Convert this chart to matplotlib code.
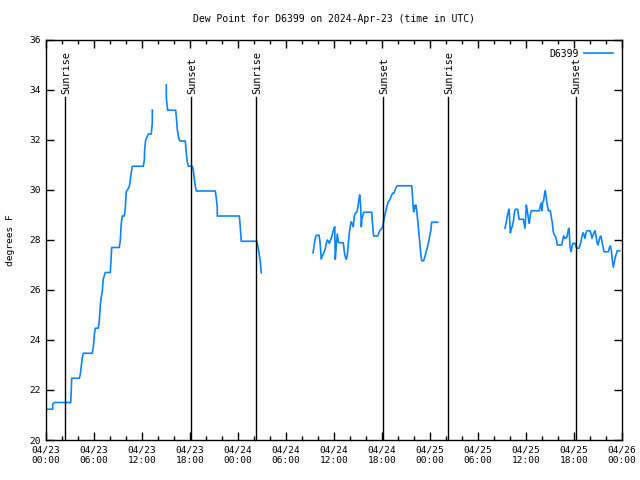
import numpy as np
import matplotlib.pyplot as plt

# hours since 2024-04-23 00:00 UTC, dew point in F (nan = gap in data)
hours = [0.0, 0.84, 0.84, 1.04, 3.09, 3.16, 3.21, 4.16, 4.29, 4.41, 4.54, 4.66, 5.79, 5.91,
         6.04, 6.16, 6.54, 6.66, 6.79, 6.91, 7.04, 7.16, 7.41, 8.04, 8.12, 8.21, 9.16, 9.29,
         9.41, 9.54, 9.79, 9.91, 10.04, 10.41, 10.54, 10.66, 10.79, 12.16, 12.29, 12.34, 12.46,
         12.66, 12.79, 13.16, 13.29, 13.29, 14.2,
         15.04, 15.04, 15.21, 16.21, 16.29, 16.41, 16.59, 16.75, 17.41, 17.54, 17.66, 17.79,
         18.29, 18.41, 18.54, 18.66, 18.79, 21.16, 21.29, 21.41, 21.41, 24.16, 24.25, 24.41,
         26.34, 26.46, 26.63, 26.79, 26.91, 30.0,
         33.38, 33.5, 33.63, 33.79, 34.13, 34.25, 34.34, 34.41, 34.54, 34.71, 34.88, 35.0,
         35.16, 35.34, 35.41, 35.54, 35.71, 35.84, 35.96, 36.09, 36.16, 36.29, 36.41, 36.54,
         36.66, 37.16, 37.29, 37.41, 37.54, 37.66, 37.79, 37.91, 38.04, 38.16, 38.29, 38.41,
         38.54, 38.66, 38.84, 38.96, 39.09, 39.21, 39.34, 39.41, 39.5, 39.63, 39.71, 40.71,
         40.79, 40.88, 40.96, 41.46, 41.59, 41.71, 41.88, 42.0, 42.13, 42.25, 42.38, 42.5,
         42.66, 42.79, 42.96, 43.09, 43.21, 43.34, 43.5, 43.63, 43.79, 43.91, 45.71, 45.79,
         45.88, 45.96, 46.04, 46.13, 46.21, 46.34, 46.46, 46.59, 46.71, 46.84, 46.96, 47.21,
         47.34, 47.46, 47.59, 47.71, 47.84, 47.96, 48.09, 48.21, 48.96, 53.0,
         57.38, 57.5, 57.63, 57.75, 57.88, 57.96, 58.04, 58.16, 58.29, 58.41, 58.54, 58.66,
         58.96, 59.04, 59.13, 59.66, 59.75, 59.88, 59.96, 60.04, 60.16, 60.29, 60.41, 60.54,
         60.66, 61.66, 61.75, 61.88, 62.0, 62.09, 62.21, 62.29, 62.41, 62.54, 62.66, 62.79,
         63.04, 63.16, 63.29, 63.41, 63.54, 63.66, 63.79, 63.91, 64.46, 64.59, 64.71, 64.84,
         65.09, 65.21, 65.34, 65.41, 65.5, 65.63, 65.75, 65.88, 66.13, 66.25, 66.38, 66.63,
         66.75, 66.88, 67.0, 67.13, 67.25, 67.38, 67.5, 67.63, 68.0, 68.13, 68.25, 68.38,
         68.5, 68.63, 68.75, 68.88, 69.0, 69.13, 69.25, 69.38, 69.5, 69.63, 69.75, 70.29,
         70.41, 70.54, 70.66, 70.79, 70.91, 71.04, 71.16, 71.29, 71.41, 71.71]
dewpt = [21.23, 21.23, 21.44, 21.5, 21.5, 22.0, 22.47, 22.47, 22.63, 22.96, 23.3, 23.47, 23.47,
         23.7, 24.19, 24.47, 24.47, 24.76, 25.4, 25.72, 25.96, 26.44, 26.7, 26.7, 27.2, 27.7,
         27.7, 27.99, 28.67, 28.96, 28.96, 29.29, 29.93, 30.13, 30.43, 30.7, 30.95, 30.95,
         31.2, 31.65, 32.0, 32.15, 32.24, 32.24, 32.7, 33.2, np.nan,
         34.2, 33.67, 33.19, 33.19, 32.93, 32.43, 32.07, 31.96, 31.96, 31.47, 31.13, 30.95,
         30.95, 30.8, 30.43, 30.16, 29.96, 29.96, 29.67, 29.3, 28.96, 28.96, 28.67, 27.95,
         27.95, 27.79, 27.47, 27.13, 26.69, np.nan,
         27.49, 27.76, 28.03, 28.19, 28.19, 27.93, 27.53, 27.24, 27.36, 27.47, 27.63, 27.8,
         28.0, 27.93, 27.87, 27.97, 28.13, 28.29, 28.43, 28.53, 27.23, 27.8, 28.24, 27.93,
         27.89, 27.89, 27.53, 27.33, 27.23, 27.4, 27.87, 28.27, 28.56, 28.73, 28.64, 28.53,
         28.96, 29.07, 29.11, 29.27, 29.57, 29.8, 29.33, 28.53, 28.87, 29.0, 29.11, 29.11,
         28.73, 28.4, 28.16, 28.16, 28.27, 28.37, 28.43, 28.47, 28.6, 28.83, 29.03, 29.2,
         29.4, 29.53, 29.6, 29.71, 29.8, 29.87, 29.87, 30.0, 30.11, 30.17, 30.17, 29.87,
         29.4, 29.13, 29.36, 29.27, 29.4, 29.2, 28.8, 28.4, 27.93, 27.47, 27.17, 27.17,
         27.31, 27.44, 27.6, 27.76, 27.93, 28.16, 28.37, 28.71, 28.71, np.nan,
         28.47, 28.67, 28.87, 29.09, 29.23, 28.8, 28.29, 28.43, 28.56, 28.73, 29.07, 29.23,
         29.23, 29.04, 28.83, 28.83, 28.69, 28.47, 28.93, 29.4, 29.17, 28.87, 28.67, 29.0,
         29.17, 29.17, 29.31, 29.47, 29.17, 29.53, 29.57, 29.8, 29.97, 29.67, 29.4, 29.17,
         29.17, 28.93, 28.67, 28.33, 28.2, 28.16, 28.03, 27.8, 27.8, 28.0, 28.16, 28.07,
         28.1, 28.29, 28.47, 28.29, 27.73, 27.53, 27.73, 27.87, 27.87, 27.73, 27.67, 27.67,
         27.8, 27.93, 28.16, 28.29, 28.2, 28.07, 28.29, 28.37, 28.37, 28.24, 28.07, 28.2,
         28.29, 28.37, 28.16, 27.89, 27.8, 27.97, 28.13, 28.16, 27.93, 27.71, 27.53, 27.53,
         27.67, 27.76, 27.6, 27.2, 26.91, 27.13, 27.31, 27.44, 27.57, 27.57]

sun_hours = [2.42, 18.17, 26.29, 42.17, 50.29, 66.21]
sun_labels = ['Sunrise', 'Sunset', 'Sunrise', 'Sunset', 'Sunrise', 'Sunset']

tick_hours = list(range(0, 73, 6))
tick_labels = ['04/23\n00:00', '04/23\n06:00', '04/23\n12:00', '04/23\n18:00',
               '04/24\n00:00', '04/24\n06:00', '04/24\n12:00', '04/24\n18:00',
               '04/25\n00:00', '04/25\n06:00', '04/25\n12:00', '04/25\n18:00',
               '04/26\n00:00']

plt.rcParams['font.family'] = 'DejaVu Sans Mono'

fig = plt.figure(figsize=(6.4, 4.8), dpi=100)
ax = fig.add_axes([46/640, 40/480, 576/640, 400/480])

ax.plot(hours, dewpt, color='#0a84ff', linewidth=1.2, label='D6399')

for h, lab in zip(sun_hours, sun_labels):
    ax.plot([h, h], [20, 33.7], color='black', linewidth=1.0)
    ax.text(h + 0.1, 33.85, lab, rotation=90, ha='center', va='bottom', fontsize=7.4)

ax.set_xlim(0, 72)
ax.set_ylim(20, 36)
ax.set_xticks(tick_hours)
ax.set_xticklabels(tick_labels, fontsize=6.8, linespacing=1.2)
ax.set_xticks(range(0, 73, 2), minor=True)
ax.set_yticks(range(20, 37, 2))
ax.tick_params(axis='y', labelsize=6.8)
ax.tick_params(which='both', direction='in', top=True, right=True, width=1.0)
ax.tick_params(which='major', length=6, pad=4)
ax.tick_params(which='minor', length=3)
for s in ax.spines.values():
    s.set_linewidth(1.0)

ax.set_ylabel('degrees F', fontsize=6.8, labelpad=10)
ax.set_title('Dew Point for D6399 on 2024-Apr-23 (time in UTC)', fontsize=7, pad=13)
ax.legend(loc='upper right', frameon=False, markerfirst=False, fontsize=7,
          handlelength=3.0, handletextpad=0.5, borderaxespad=0.5)

fig.savefig('out.png', dpi=100)
